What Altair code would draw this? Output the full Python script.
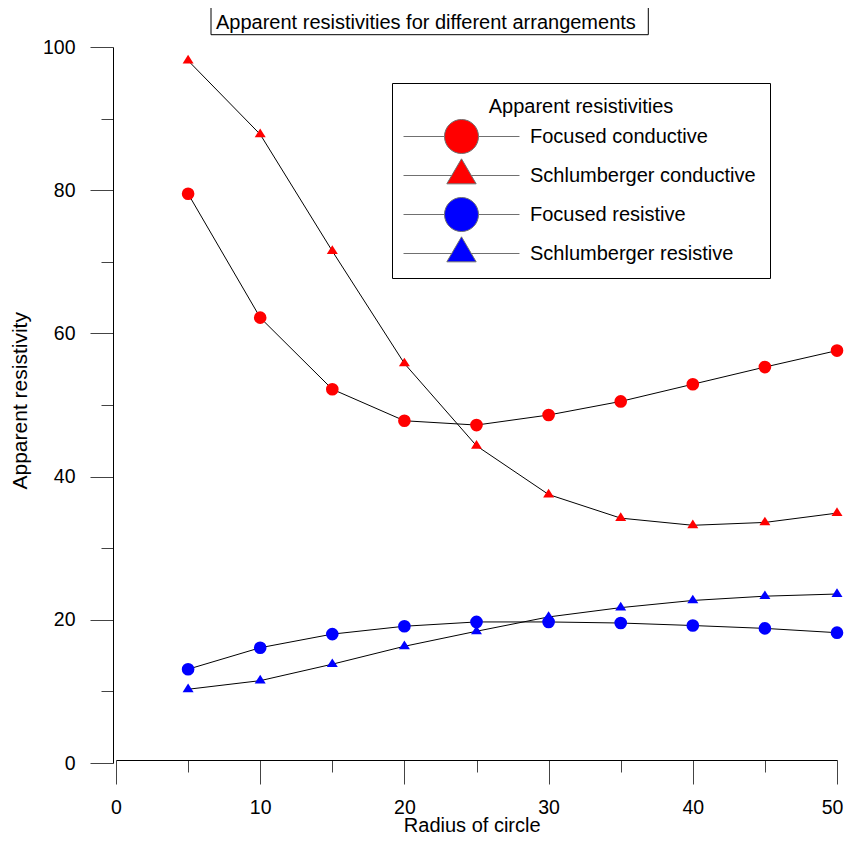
import altair as alt
import pandas as pd

# ---------------- data ----------------
radius = [5, 10, 15, 20, 25, 30, 35, 40, 45, 50]
focused_conductive = [79.5, 62.2, 52.2, 47.8, 47.2, 48.6, 50.5, 52.9, 55.3, 57.6]
schlumberger_conductive = [98.1, 87.8, 71.5, 55.8, 44.3, 37.5, 34.2, 33.2, 33.6, 34.9]
focused_resistive = [13.1, 16.1, 18.0, 19.1, 19.7, 19.7, 19.55, 19.2, 18.8, 18.2]
schlumberger_resistive = [10.3, 11.5, 13.8, 16.3, 18.4, 20.4, 21.7, 22.7, 23.3, 23.6]

series_names = ["Focused conductive", "Schlumberger conductive",
                "Focused resistive", "Schlumberger resistive"]
series_values = [focused_conductive, schlumberger_conductive,
                 focused_resistive, schlumberger_resistive]
series_colors = ["#ff0000", "#ff0000", "#0000ff", "#0000ff"]
legend_line_color = "#707070"

x_ticks = list(range(0, 51, 5))
y_ticks = list(range(0, 101, 10))

chart_title = "Apparent resistivities for different arrangements"
legend_title = "Apparent resistivities"
x_title = "Radius of circle"
y_title = "Apparent resistivity"

rows = []
for name, vals in zip(series_names, series_values):
    for r, v in zip(radius, vals):
        rows.append({"radius": r, "resistivity": v, "series": name})
df = pd.DataFrame(rows)

FONT = "Liberation Sans"

# symbol paths
LEG_CIRCLE = "M-1,0A1,1,0,1,1,1,0A1,1,0,1,1,-1,0ZM-3.41,0H-1M1,0H3.41"
LEG_TRI = "M0,-0.98L-0.863,0.49L0.863,0.49ZM-3.41,0H-0.575M0.575,0H3.41"
PLOT_TRI = "M0,-1.053L-1,0.527L1,0.527Z"

x_enc = alt.X(
    "radius:Q",
    scale=alt.Scale(domain=[0, 50], nice=False, zero=False),
    axis=alt.Axis(
        values=x_ticks, grid=False, offset=-3,
        domainColor="black", domainWidth=1,
        tickColor="#444", tickWidth=1,
        tickSize={"condition": {"test": "datum.value % 10 === 0", "value": 24}, "value": 12},
        labelExpr="datum.value % 10 === 0 ? datum.label : ''",
        labelOffset={"condition": {"test": "datum.value === 50", "value": -5}, "value": 0},
        labelFont=FONT, labelFontSize=19.5, labelColor="black",
        labelPadding=14, labelBaseline="top", labelAngle=0,
        labelFlush=False, labelOverlap=False,
        title=x_title, titleFont=FONT, titleFontSize=20, titleFontWeight="normal",
        titleColor="black", titleX=355.7, titleY=71.5, titleAlign="center",
        titleBaseline="alphabetic",
    ),
)
y_enc = alt.Y(
    "resistivity:Q",
    scale=alt.Scale(domain=[0, 100], nice=False, zero=False),
    axis=alt.Axis(
        values=y_ticks, grid=False, offset=3,
        domainColor="black", domainWidth=1,
        tickColor="#444", tickWidth=1,
        tickSize={"condition": {"test": "datum.value % 20 === 0", "value": 23}, "value": 12},
        labelExpr="datum.value % 20 === 0 ? datum.label : ''",
        labelFont=FONT, labelFontSize=19.5, labelColor="black",
        labelPadding=15, labelBaseline="middle",
        labelFlush=False, labelOverlap=False,
        title=y_title, titleFont=FONT, titleFontSize=21, titleFontWeight="normal",
        titleColor="black", titleX=-87, titleY=353.3, titleAlign="center",
        titleBaseline="alphabetic", titleAngle=-90,
    ),
)

legend = alt.Legend(
    title=legend_title, orient="none", legendX=276, legendY=36,
    titleFont=FONT, titleFontSize=20, titleFontWeight="normal", titleColor="black",
    titleAnchor="middle", titlePadding=2, titleLimit=400,
    labelFont=FONT, labelFontSize=20, labelColor="black", labelOffset=51, labelLimit=400,
    symbolSize=1156, symbolStrokeWidth=1, symbolOffset=38,
    padding=14, strokeColor="black", fillColor="white", rowPadding=0, gridAlign="all",
)

base = alt.Chart(df)

legend_layer = base.transform_filter("false").mark_point(
    filled=True, opacity=1, strokeWidth=1
).encode(
    x=x_enc, y=y_enc,
    fill=alt.Fill("series:N", scale=alt.Scale(domain=series_names, range=series_colors), legend=legend),
    shape=alt.Shape("series:N",
                    scale=alt.Scale(domain=series_names, range=[LEG_CIRCLE, LEG_TRI, LEG_CIRCLE, LEG_TRI]),
                    legend=legend),
    stroke=alt.Stroke("series:N",
                      scale=alt.Scale(domain=series_names, range=[legend_line_color] * 4),
                      legend=legend),
)

lines = base.mark_line(color="black", strokeWidth=1).encode(
    x=x_enc, y=y_enc, detail="series:N"
)

color_cond = alt.condition("indexof(datum.series, 'conductive') >= 0",
                           alt.value(series_colors[0]), alt.value(series_colors[2]))

circles = base.transform_filter("indexof(datum.series, 'Focused') === 0").mark_point(
    shape="circle", filled=True, size=160, opacity=1
).encode(x=x_enc, y=y_enc, fill=color_cond)

triangles = base.transform_filter("indexof(datum.series, 'Schlumberger') === 0").mark_point(
    shape=PLOT_TRI, filled=True, size=121, opacity=1
).encode(x=x_enc, y=y_enc, fill=color_cond)

title_data = alt.Data(values=[{"label": chart_title}])
title_box = alt.Chart(title_data).mark_rect(fill="white", stroke="black", strokeWidth=1).encode(
    x=alt.value(95), x2=alt.value(532.3), y=alt.value(-39.7), y2=alt.value(-12.3)
)
title_text = alt.Chart(title_data).mark_text(
    align="left", baseline="alphabetic", font=FONT, fontSize=20, color="black"
).encode(text="label:N", x=alt.value(100), y=alt.value(-17.7))

chart = alt.layer(legend_layer, lines, circles, triangles, title_box, title_text).properties(
    width=721, height=716,
    autosize=alt.AutoSizeParams(type="none"),
    padding={"left": 108, "top": 39, "right": 7, "bottom": 73},
    background="white",
).configure(font=FONT).configure_view(stroke=None)

chart.save("out.html", embed_options={"renderer": "svg", "actions": False})
